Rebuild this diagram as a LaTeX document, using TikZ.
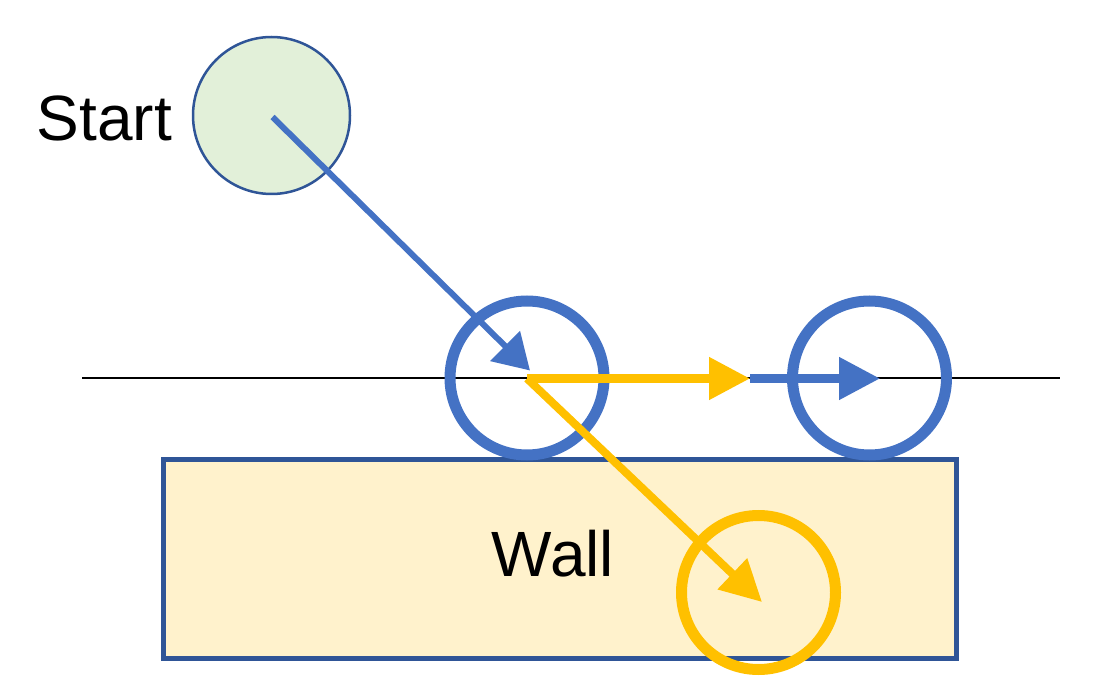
\documentclass[tikz,border=0pt]{standalone}
\usepackage{fontspec}
\setmainfont{Liberation Sans}
\usetikzlibrary{arrows.meta}
\definecolor{startfill}{HTML}{E2F0D9}
\definecolor{darkblue}{HTML}{2F5597}
\definecolor{ballblue}{HTML}{4472C4}
\definecolor{gold}{HTML}{FFC000}
\definecolor{wallfill}{HTML}{FFF2CC}
\tikzset{
  ring/.style={circle, draw, line width=11pt, minimum size=154pt, inner sep=0pt},
  bluearrow/.style={draw=ballblue, line width=#1, -{Triangle[length=41pt,width=41pt]}},
  goldarrow/.style={draw=gold, line width=8pt, -{Triangle[length=41pt,width=41pt]}},
  bigtext/.style={font=\fontsize{64}{77}\selectfont, inner sep=0pt}
}
\begin{document}
\begin{tikzpicture}[x=1pt,y=-1pt]
\useasboundingbox (0,0) rectangle (1100,700);
% wall
\node[draw=darkblue, fill=wallfill, line width=5pt, minimum width=793pt, minimum height=199pt, inner sep=0pt, outer sep=0pt] (wall) at (559.5,558.5) {};
\node[bigtext] (walltext) at (553,554) {Wall};
% ground line
\coordinate (gl) at (82,378);
\coordinate (gr) at (1060,378);
\draw[black, line width=2pt] (gl) -- (gr);
% start
\node[circle, draw=darkblue, fill=startfill, line width=2.5pt, minimum size=157pt, inner sep=0pt] (start) at (271.5,115.5) {};
\node[bigtext, anchor=east] (starttext) at (172,118) {Start};
% balls
\node[ring, draw=ballblue] (ball1) at (527,378) {};
\node[ring, draw=ballblue] (ball2) at (869.5,378) {};
\node[ring, draw=gold] (ball3) at (758.5,592.5) {};
% arrows
\coordinate (s0) at (272.5,117);
\coordinate (hit) at (530,370.5);
\coordinate (p0) at (527,378.5);
\coordinate (mid) at (750,378.5);
\coordinate (fin) at (880,378.5);
\coordinate (pen) at (762,602);
\draw[bluearrow=6pt, -{Triangle[length=35pt,width=41pt]}] (s0) -- (hit);
\draw[bluearrow=8pt] (mid) -- (fin);
\draw[goldarrow] (p0) -- (mid);
\draw[goldarrow] (p0) -- (pen);
\end{tikzpicture}
\end{document}
